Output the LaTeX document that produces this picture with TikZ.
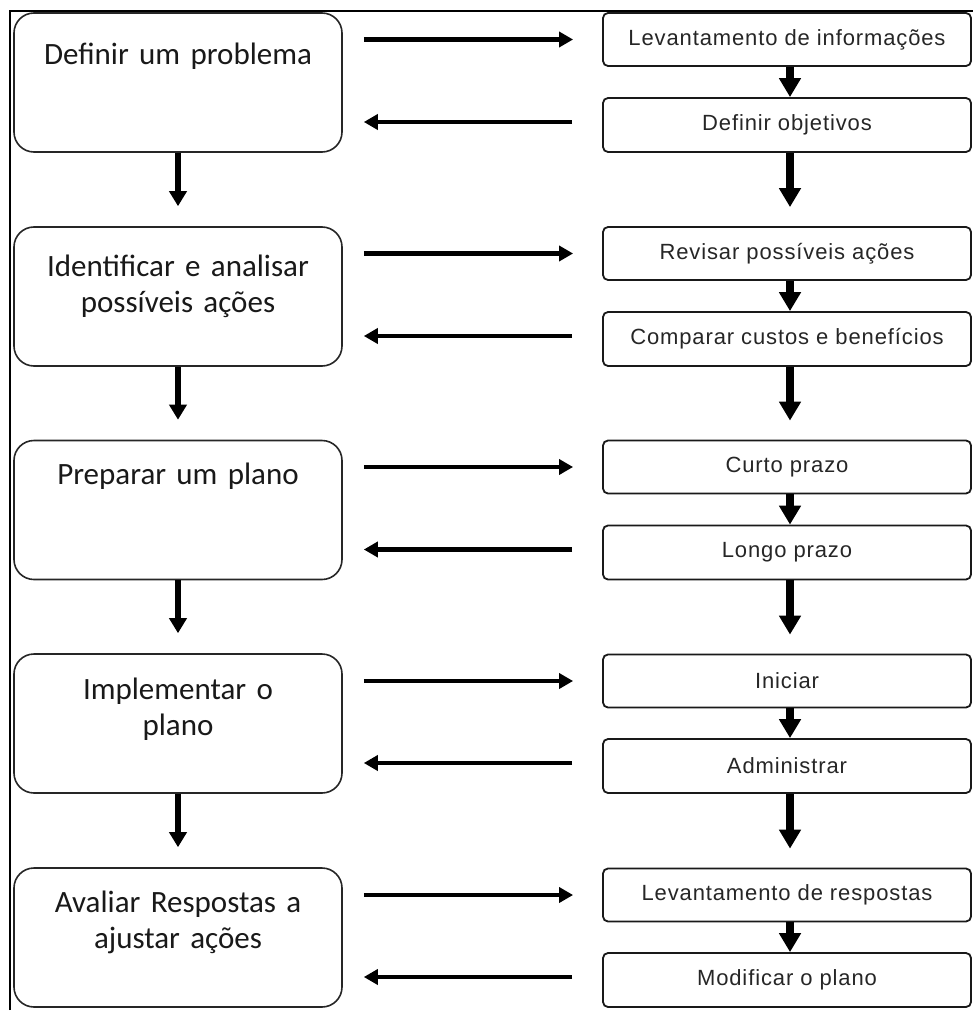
\documentclass[tikz,border=0pt]{standalone}
\usepackage{fontspec}
\setmainfont{Carlito}
\newfontfamily\taskfont[LetterSpace=4]{Liberation Sans}
\usetikzlibrary{arrows.meta}

\tikzset{
  stage/.style={draw=black!85, line width=1.6pt, rounded corners=20pt,
    minimum width=328pt, minimum height=139pt, inner sep=0pt},
  stagetext/.style={anchor=base, text width=320pt, align=center, inner sep=0pt,
    font=\fontsize{31}{36}\selectfont, text=black!90},
  task/.style={draw=black!90, line width=1.8pt, rounded corners=5pt,
    minimum width=368pt, inner sep=0pt,
    font=\taskfont\fontsize{22}{24}\selectfont, text=black!85},
  taskA/.style={task, minimum height=53pt},
  taskB/.style={task, minimum height=54pt},
  stagearrow/.style={line width=5.5pt, -{Triangle[length=15pt,width=17pt]}, shorten >=20pt},
  taskarrow/.style={line width=7.5pt, -{Triangle[length=19pt,width=21pt]}},
  sidearrow/.style={line width=4.5pt, -{Triangle[length=14pt,width=15pt]}}
}

\begin{document}
\begin{tikzpicture}[x=1pt,y=-1pt]
  \useasboundingbox (0,0) rectangle (973,1014);
  \fill[white] (0,0) rectangle (973,1014);

  % frame
  \draw[line width=2.5pt, black] (10,1010) -- (10,11) -- (973,11);

  % main stages (left column)
  \node[stage] (L1) at (178,82.5)  {};
  \node[stage] (L2) at (178,296.5) {};
  \node[stage] (L3) at (178,510)   {};
  \node[stage] (L4) at (178,723.5) {};
  \node[stage] (L5) at (178,937.5) {};

  \node[stagetext] (L1t) at ([yshift=-52pt]L1.north) {Definir um problema};
  \node[stagetext] (L2t) at ([yshift=-50pt]L2.north) {Identificar e analisar\\possíveis ações};
  \node[stagetext] (L3t) at ([yshift=-45pt]L3.north) {Preparar um plano};
  \node[stagetext] (L4t) at ([yshift=-46pt]L4.north) {Implementar o\\plano};
  \node[stagetext] (L5t) at ([yshift=-45pt]L5.north) {Avaliar Respostas a\\ajustar ações};

  % detail steps (right column)
  \node[taskA] (R1a) at (787,39.5)  {Levantamento de informações};
  \node[taskB] (R1b) at (787,125)   {Definir objetivos};
  \node[taskA] (R2a) at (787,253.5) {Revisar possíveis ações};
  \node[taskB] (R2b) at (787,339)   {Comparar custos e benefícios};
  \node[taskA] (R3a) at (787,467)   {Curto prazo};
  \node[taskB] (R3b) at (787,552.5) {Longo prazo};
  \node[taskA] (R4a) at (787,681)   {Iniciar};
  \node[taskB] (R4b) at (787,766)   {Administrar};
  \node[taskA] (R5a) at (787,895)   {Levantamento de respostas};
  \node[taskB] (R5b) at (787,980)   {Modificar o plano};

  % flow between stages
  \foreach \a/\b in {L1/L2, L2/L3, L3/L4, L4/L5}
    \draw[stagearrow] (\a.south) -- (\b.north);

  % flow between steps
  \foreach \i in {1,...,5}
    \draw[taskarrow] ([xshift=3pt]R\i a.south) -- ([xshift=3pt]R\i b.north);
  \foreach \i/\j in {1/2, 2/3, 3/4, 4/5}
    \draw[taskarrow, shorten >=19pt] ([xshift=3pt]R\i b.south) -- ([xshift=3pt]R\j a.north);

  % exchanges between stages and steps
  \foreach \i in {1,...,5} {
    \draw[sidearrow, shorten <=21pt, shorten >=29pt] (L\i.east |- R\i a.west) -- (R\i a.west);
    \draw[sidearrow, shorten <=30pt, shorten >=21pt] ([yshift=3pt]R\i b.west) -- ([yshift=3pt]L\i.east |- R\i b.west);
  }
\end{tikzpicture}
\end{document}
